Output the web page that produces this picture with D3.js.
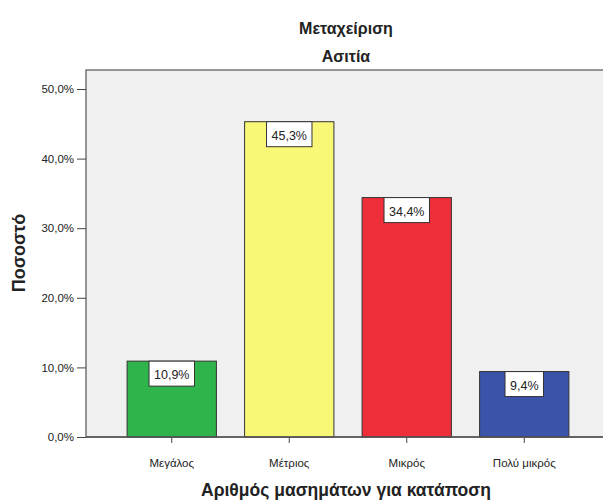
<!DOCTYPE html>
<html><head><meta charset="utf-8">
<script src="https://cdn.jsdelivr.net/npm/d3@7"></script>
<style>body{margin:0;background:#fff}svg{display:block}text{font-family:Arial,"Liberation Sans",sans-serif;fill:#222}</style>
</head><body><svg id="c" width="603" height="501"></svg>
<script>
const categories = ["Μεγάλος","Μέτριος","Μικρός","Πολύ μικρός"];
const values = [10.9, 45.3, 34.4, 9.4];
const colors = ["#2fb44b","#f9f876","#ee2f3a","#3b53a8"];
const yTicks = [0,10,20,30,40,50];
const title1 = "Μεταχείριση", title2 = "Ασιτία";
const xTitle = "Αριθμός μασημάτων για κατάποση", yTitle = "Ποσοστό";

const svg = d3.select("#c");
const L=86, T=70, R=606, B=437;
const CX=(L+R)/2;
const y = d3.scaleLinear().domain([0,50]).range([B,89]);
const x = d3.scaleBand().domain(categories).range([113,583]).paddingInner(0.24).paddingOuter(0.12);
const fmt = v => d3.format(".1f")(v).replace(".",",")+"%";

svg.append("rect").attr("x",L).attr("y",T).attr("width",R-L).attr("height",B-T).attr("fill","#f0f0f0").attr("stroke","#555").attr("stroke-width",1.2);

const bars = svg.append("g");
categories.forEach((c,i)=>{
  const bx=x(c), bw=x.bandwidth(), by=y(values[i]);
  bars.append("rect").attr("x",bx).attr("y",by).attr("width",bw).attr("height",B-by).attr("fill",colors[i]).attr("stroke","#333").attr("stroke-width",1);
  const g=bars.append("g");
  const t=g.append("text").attr("x",bx+bw/2).attr("y",by+18).attr("text-anchor","middle").attr("font-size",12.5).text(fmt(values[i]));
  const w=t.node().getComputedTextLength()+10;
  g.insert("rect","text").attr("x",bx+bw/2-w/2).attr("y",by).attr("width",w).attr("height",25).attr("fill","#fff").attr("stroke","#333").attr("stroke-width",1);
});

const ya = svg.append("g").attr("transform",`translate(${L},0)`)
  .call(d3.axisLeft(y).tickValues(yTicks).tickSize(9).tickPadding(3).tickFormat(v=>fmt(v)));
ya.select(".domain").remove();
ya.selectAll("line").attr("stroke","#444");
ya.selectAll("text").attr("font-size",11.5).attr("fill","#333").style("font-family","Arial,'Liberation Sans',sans-serif");

const xa = svg.append("g").attr("transform",`translate(0,${B})`)
  .call(d3.axisBottom(x).tickSize(6).tickPadding(16));
xa.select(".domain").remove();
xa.selectAll("line").attr("stroke","#444");
xa.selectAll("text").attr("font-size",11.5).attr("fill","#333").style("font-family","Arial,'Liberation Sans',sans-serif");

svg.append("line").attr("x1",L).attr("x2",R).attr("y1",B).attr("y2",B).attr("stroke","#555").attr("stroke-width",1.5);

svg.append("text").attr("x",CX).attr("y",34).attr("text-anchor","middle").attr("font-size",16).attr("font-weight","bold").text(title1);
svg.append("text").attr("x",CX).attr("y",62).attr("text-anchor","middle").attr("font-size",16).attr("font-weight","bold").text(title2);
svg.append("text").attr("x",CX).attr("y",496).attr("text-anchor","middle").attr("font-size",17.5).attr("font-weight","bold").text(xTitle);
svg.append("text").attr("transform","translate(25,253) rotate(-90)").attr("text-anchor","middle").attr("font-size",18).attr("font-weight","bold").text(yTitle);
</script></body></html>
